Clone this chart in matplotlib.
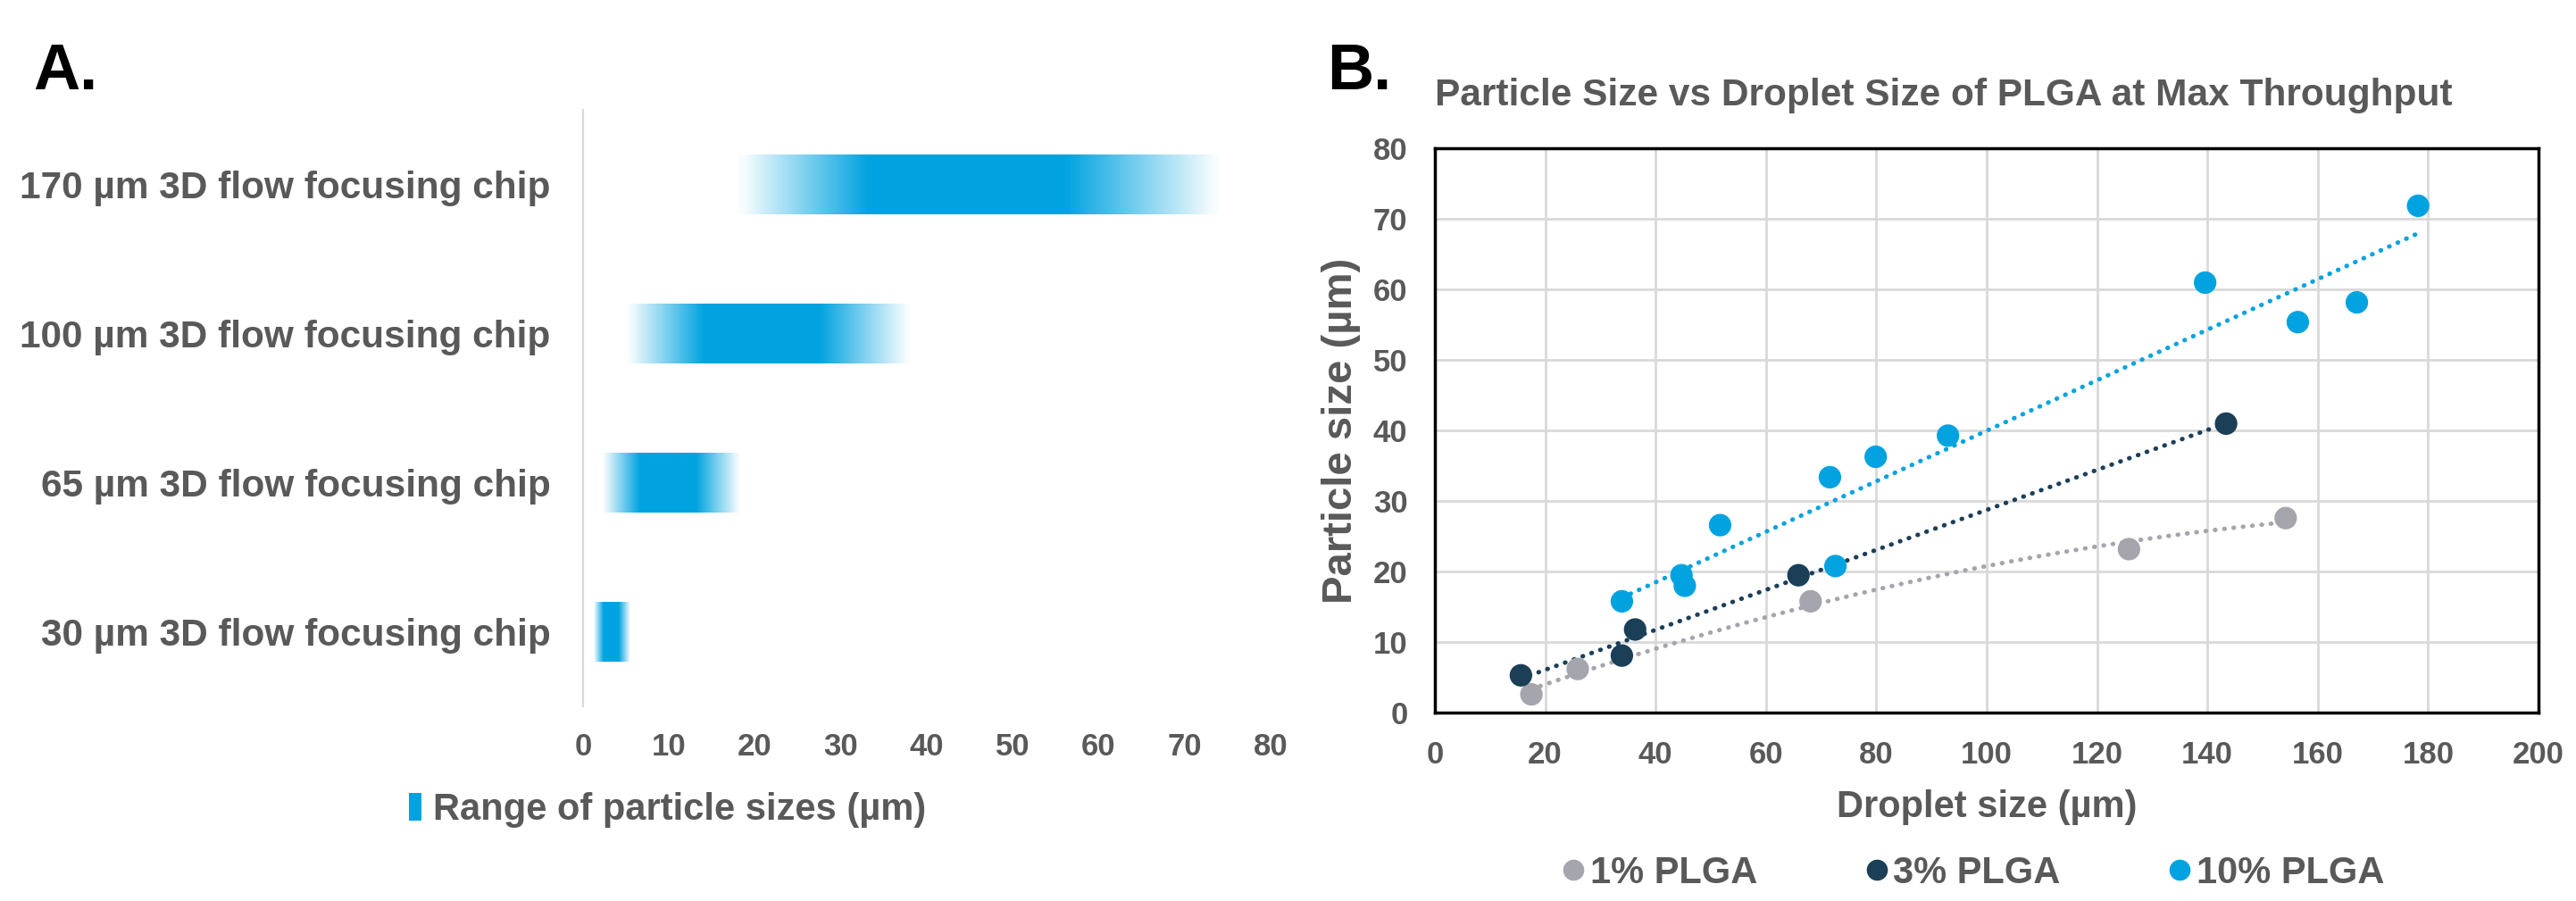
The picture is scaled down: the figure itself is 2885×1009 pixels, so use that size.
import numpy as np
import matplotlib
matplotlib.use("Agg")
import matplotlib.pyplot as plt
from matplotlib.patches import Patch
from matplotlib.lines import Line2D

# ---------------- data ----------------
# Panel A: range of particle sizes per chip (bottom -> top)
chips = ["30 µm 3D flow focusing chip", "65 µm 3D flow focusing chip",
         "100 µm 3D flow focusing chip", "170 µm 3D flow focusing chip"]
range_min = [1.3, 2.3, 5.2, 18.2]
range_max = [5.5, 18.2, 38.0, 73.9]
a_xticks = [0, 10, 20, 30, 40, 50, 60, 70, 80]

# Panel B: particle size vs droplet size
plga1_x = [17.5, 25.9, 68.1, 125.8, 154.2]
plga1_y = [2.6, 6.2, 15.8, 23.2, 27.6]
plga3_x = [15.6, 33.9, 36.3, 65.9, 143.4]
plga3_y = [5.3, 8.1, 11.8, 19.5, 41.0]
plga10_x = [33.9, 44.7, 45.3, 51.7, 71.6, 72.6, 79.9, 93.0, 139.6, 156.4, 167.1, 178.2]
plga10_y = [15.8, 19.5, 18.0, 26.6, 33.4, 20.8, 36.3, 39.3, 61.0, 55.4, 58.2, 71.9]
series_names = ["1% PLGA", "3% PLGA", "10% PLGA"]
b_xticks = [0, 20, 40, 60, 80, 100, 120, 140, 160, 180, 200]
b_yticks = [0, 10, 20, 30, 40, 50, 60, 70, 80]

# ---------------- style ----------------
TXT = "#595959"
BLUE = "#00A3E0"
NAVY = "#1B3F57"
GRAY = "#A5A5AD"
GRID = "#D9D9D9"
plt.rcParams["font.family"] = ["Liberation Sans", "DejaVu Sans"]
plt.rcParams["font.weight"] = "bold"

fig = plt.figure(figsize=(28.85, 10.09), dpi=100)

# ---------------- panel A ----------------
axA = fig.add_axes([0.2263, 0.216, 0.2669, 0.662])
blue_rgb = np.array(matplotlib.colors.to_rgb(BLUE))
t = np.linspace(0, 1, 400)
w = np.ones_like(t)
w = np.where(t < 0.27, t / 0.27, w)
w = np.where(t > 0.68, (1 - t) / 0.32, w)
w = np.clip(w, 0.03, 1)
grad = (1 - w[:, None]) * np.ones(3) + w[:, None] * blue_rgb
grad = grad[None, :, :]
bar_h = 0.40
for i, (lo, hi) in enumerate(zip(range_min, range_max)):
    axA.imshow(grad, extent=(lo, hi, i - bar_h / 2, i + bar_h / 2),
               aspect="auto", interpolation="bilinear", zorder=2)
axA.set_xlim(0, 80)
axA.set_ylim(-0.5, 3.5)
axA.set_yticks(range(len(chips)))
axA.set_yticklabels(chips, fontsize=30.5, color=TXT, fontweight="bold")
axA.set_xticks(a_xticks)
axA.set_xticklabels([str(v) for v in a_xticks], fontsize=25, color=TXT, fontweight="bold")
axA.tick_params(axis="both", length=0)
axA.tick_params(axis="y", pad=26)
axA.tick_params(axis="x", pad=21)
for s in ["top", "right", "bottom"]:
    axA.spines[s].set_visible(False)
axA.spines["left"].set_color(GRID)
axA.spines["left"].set_linewidth(1.5)

fig.legend(handles=[Patch(facecolor=BLUE, edgecolor="none")],
           labels=["Range of particle sizes (µm)"],
           loc="center", bbox_to_anchor=(0.259, 0.101), frameon=False,
           prop={"size": 30, "weight": "bold"}, labelcolor=TXT,
           handlelength=0.35, handleheight=0.75, handletextpad=0.3)

# ---------------- panel B ----------------
axB = fig.add_axes([0.557, 0.209, 0.4284, 0.626])
axB.set_xlim(0, 200)
axB.set_ylim(0, 80)
axB.set_xticks(b_xticks)
axB.set_yticks(b_yticks)
axB.set_xticklabels([str(v) for v in b_xticks], fontsize=25, color=TXT, fontweight="bold")
axB.set_yticklabels([str(v) for v in b_yticks], fontsize=25, color=TXT, fontweight="bold")
axB.tick_params(axis="both", length=0)
axB.tick_params(axis="x", pad=22)
axB.tick_params(axis="y", pad=22)
axB.grid(True, color=GRID, linewidth=2)
axB.set_axisbelow(True)
for s in axB.spines.values():
    s.set_color("black")
    s.set_linewidth(2.5)

series = [(plga1_x, plga1_y, GRAY, 2), (plga3_x, plga3_y, NAVY, 1), (plga10_x, plga10_y, BLUE, 1)]
handles = []
for (xs, ys, col, deg), name in zip(series, series_names):
    xs = np.array(xs); ys = np.array(ys)
    coef = np.polyfit(xs, ys, deg)
    xx = np.linspace(xs.min(), xs.max(), 200)
    axB.plot(xx, np.polyval(coef, xx), color=col, linewidth=3.6,
             linestyle=(0, (0.1, 2.0)), dash_capstyle="round", zorder=2)
    axB.scatter(xs, ys, s=330, color=col, edgecolors="none", zorder=3)
    handles.append(Line2D([], [], linestyle="none", marker="o", markersize=17,
                          markerfacecolor=col, markeredgecolor="none"))

axB.set_xlabel("Droplet size (µm)", fontsize=30, color=TXT, fontweight="bold", labelpad=16)
axB.set_ylabel("Particle size (µm)", fontsize=34, color=TXT, fontweight="bold", labelpad=10,
               family=["Liberation Sans Narrow", "Liberation Sans", "DejaVu Sans"])

fig.legend(handles=handles, labels=series_names, loc="center",
           bbox_to_anchor=(0.766, 0.031), ncol=3, frameon=False,
           prop={"size": 30, "weight": "bold"}, labelcolor=TXT,
           handlelength=0.6, handletextpad=0.15, columnspacing=2.9)

fig.text(0.557, 0.883, "Particle Size vs Droplet Size of PLGA at Max Throughput",
         fontsize=30.5, color=TXT, fontweight="bold", ha="left", va="baseline")

fig.text(0.013, 0.901, "A.", fontsize=52, color="black", fontweight="bold", ha="left", va="baseline")
fig.text(0.515, 0.901, "B.", fontsize=52, color="black", fontweight="bold", ha="left", va="baseline")

fig.savefig("out.png", dpi=100, facecolor="white")
